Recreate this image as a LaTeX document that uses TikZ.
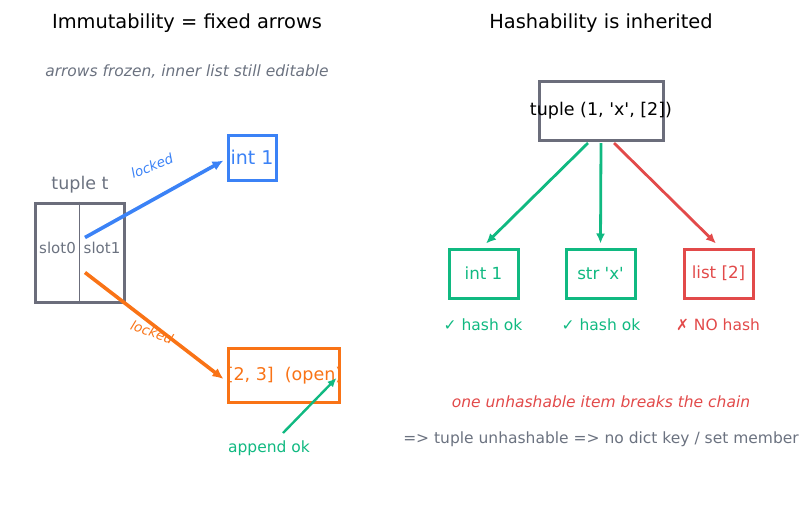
\documentclass[tikz,border=0pt]{standalone}
\usepackage{fontspec}
\setmainfont{DejaVu Sans}[Ligatures=TeXOff]
\usetikzlibrary{arrows.meta}
\definecolor{cblue}{HTML}{3B82F6}
\definecolor{corange}{HTML}{F97316}
\definecolor{cgreen}{HTML}{10B981}
\definecolor{cred}{HTML}{E24A4A}
\definecolor{cgray}{HTML}{6B7280}
\definecolor{cbox}{HTML}{6B6D7B}
\tikzset{
  box/.style={draw, line width=3pt, inner sep=0pt},
  ttl/.style={font=\fontsize{19.4}{23}\selectfont, text=black},
  arr/.style={line width=2.8pt, -{Latex[length=10pt,width=9pt]}},
  thick arr/.style={line width=3.6pt, -{Latex[length=11pt,width=10pt]}},
  lbl/.style={font=\fontsize{13.5}{16}\selectfont\itshape},
  mid/.style={font=\fontsize{15.5}{18}\selectfont},
  midit/.style={font=\fontsize{15.5}{18}\selectfont\itshape},
}
\begin{document}
\begin{tikzpicture}[x=1pt,y=-1pt]
\useasboundingbox (0,0) rectangle (812,507);
% titles
\node[ttl] (t1) at (187,23) {Immutability = fixed arrows};
\node[ttl] (t2) at (601,23) {Hashability is inherited};
\node[text=cgray, midit] (sub) at (187,72) {arrows frozen, inner list still editable};
% left: tuple
\node[text=cgray, font=\fontsize{17.5}{20}\selectfont] (tt) at (80,185) {tuple t};
\node[box, draw=cbox, minimum width=89pt, minimum height=99pt] (tb) at (79.5,252.5) {};
\draw[cbox, line width=1.6pt] (tb.north) -- (tb.south);
\node[text=cgray, font=\fontsize{15}{17}\selectfont] (s0) at (57.5,248) {slot0};
\node[text=cgray, font=\fontsize{15}{17}\selectfont] (s1) at (102,248) {slot1};
\coordinate (s1a) at (85,237.5);
\coordinate (s1b) at (85,272.5);
% int 1 blue
\node[box, draw=cblue, minimum width=48pt, minimum height=45pt, text=cblue, font=\fontsize{19}{22}\selectfont] (i1) at (252,157.5) {int 1};
% orange list
\node[text=corange, font=\fontsize{17.5}{21}\selectfont] (ltxt) at (284.5,375.5) {[2, 3]\ \ (open)};
\node[box, draw=corange, minimum width=111pt, minimum height=54pt] (lb) at (283.5,375) {};
% arrows
\draw[thick arr, cblue] (s1a) -- ([xshift=-3pt,yshift=-3pt]i1.west);
\node[lbl, text=cblue, rotate=22] (lk1) at (152,166) {locked};
\draw[thick arr, corange] (s1b) -- ([xshift=-3pt,yshift=-4pt]lb.west);
\node[lbl, text=corange, rotate=-20] (lk2) at (152,332) {locked};
\node[text=cgreen, mid] (ap) at (269,448) {append ok};
\coordinate (apa) at (283,433);
\draw[cgreen, line width=2.4pt, -{Latex[length=9pt,width=8pt]}] (apa) -- ([xshift=-4pt,yshift=-3pt]lb.east);
% right
\node[box, draw=cbox, minimum width=124pt, minimum height=59pt] (tp) at (601,110.5) {};
\node[font=\fontsize{17.5}{21}\selectfont] (tptxt) at (601,110.5) {tuple (1, 'x', [2])};
\node[box, draw=cgreen, minimum width=69pt, minimum height=49pt, text=cgreen, font=\fontsize{16.7}{20}\selectfont] (ri) at (483.5,273.5) {int 1};
\node[box, draw=cgreen, minimum width=69pt, minimum height=49pt, text=cgreen, font=\fontsize{16.7}{20}\selectfont] (rs) at (600.5,273.5) {str 'x'};
\node[box, draw=cred, minimum width=69pt, minimum height=49pt, text=cred, font=\fontsize{16.7}{20}\selectfont] (rl) at (718.5,273.5) {list [2]};
\draw[arr, cgreen] ([xshift=-13pt,yshift=-1.5pt]tp.south) -- ([xshift=2.5pt,yshift=4pt]ri.north);
\draw[arr, cgreen] ([yshift=-1.5pt]tp.south) -- ([yshift=4pt]rs.north);
\draw[arr, cred] ([xshift=13pt,yshift=-1.5pt]tp.south) -- ([xshift=-2.5pt,yshift=4pt]rl.north);
\node[text=cgreen, mid] (h1) at (483,325) {✓ hash ok};
\node[text=cgreen, mid] (h2) at (601,325) {✓ hash ok};
\node[text=cred, mid] (h3) at (718,325) {✗ NO hash};
\node[text=cred, midit] (br) at (601,402) {one unhashable item breaks the chain};
\node[text=cgray, mid] (cn) at (601,439) {=> tuple unhashable => no dict key / set member};
\end{tikzpicture}
\end{document}
